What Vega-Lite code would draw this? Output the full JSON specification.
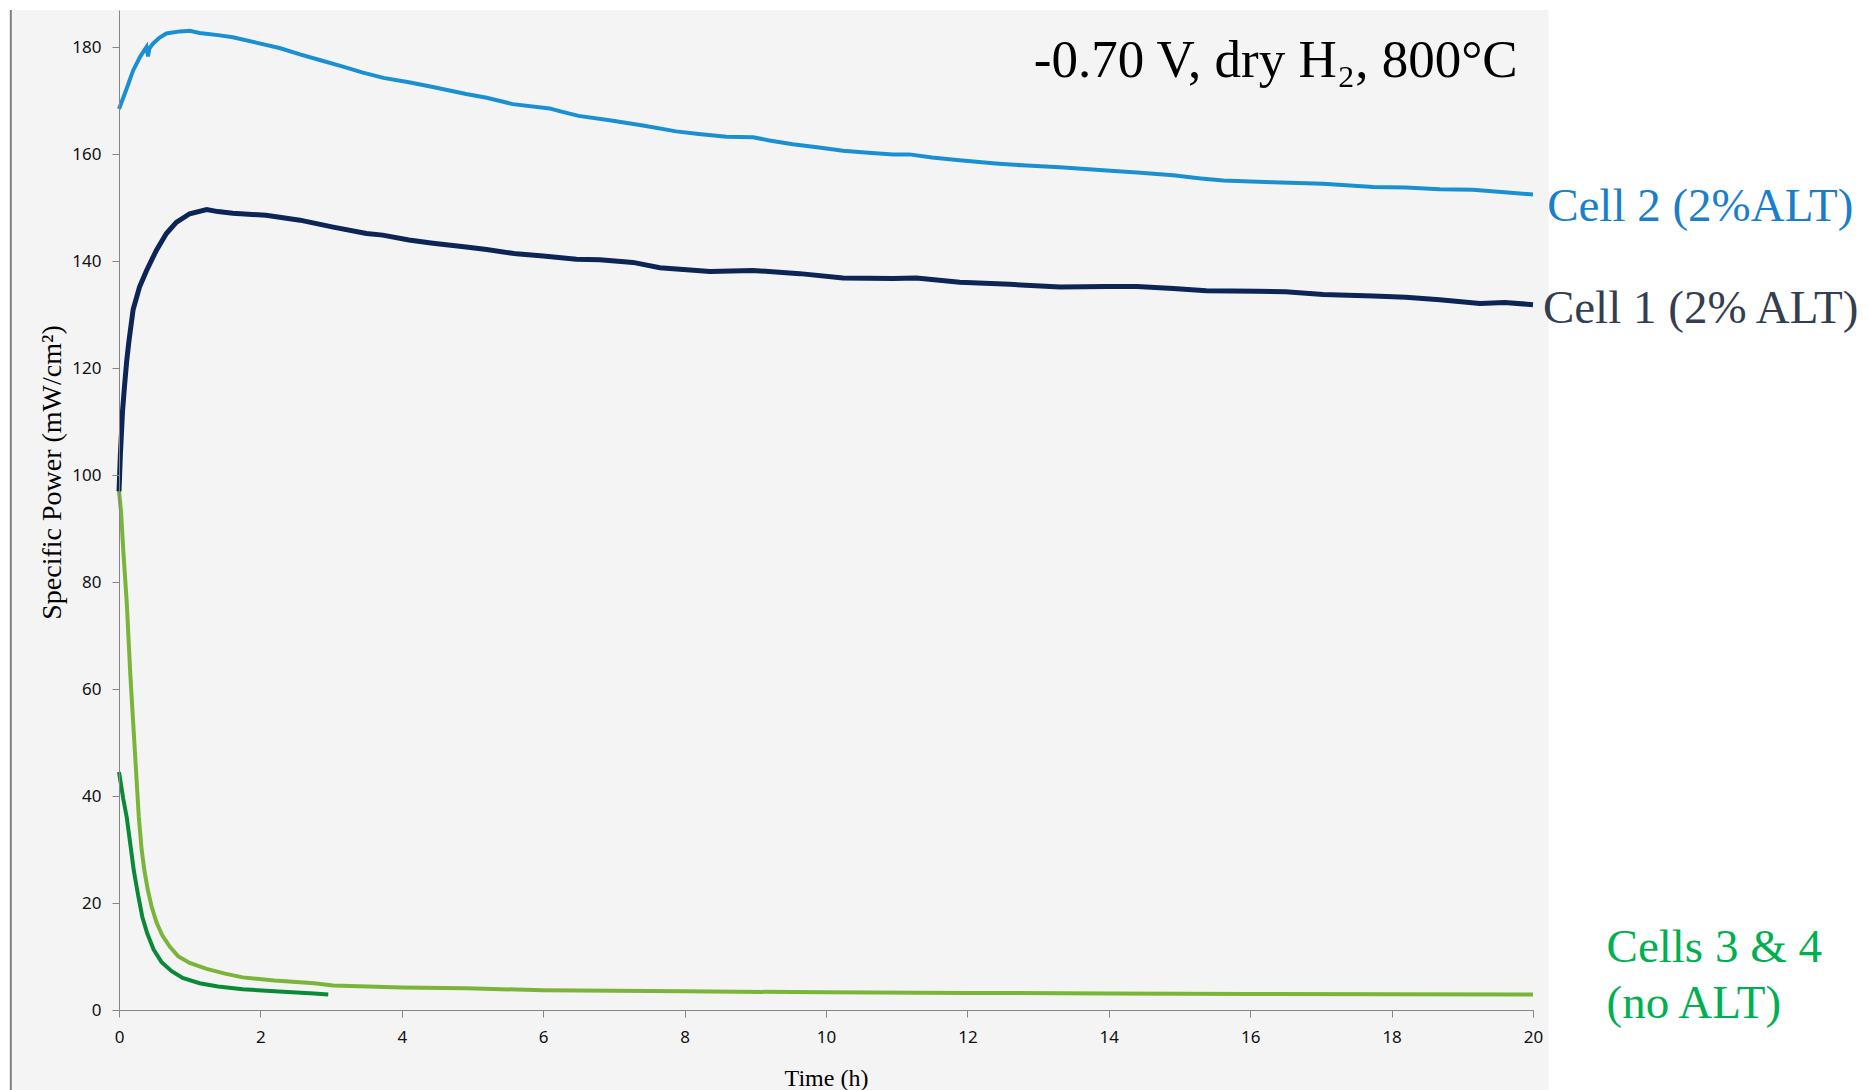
{
  "$schema": "https://vega.github.io/schema/vega-lite/v6.json",
  "width": 1414,
  "height": 1000,
  "autosize": {"type": "none"},
  "padding": {"left": 119, "top": 10, "right": 335, "bottom": 80},
  "background": "#ffffff",
  "config": {"view": {"stroke": null}},
  "datasets": {
    "one": [{}],
    "lines": [
      {"series": "Cell 4", "t": 0, "v": 44.5}, {"series": "Cell 4", "t": 0.03, "v": 42}, {"series": "Cell 4", "t": 0.06, "v": 39.5}, {"series": "Cell 4", "t": 0.11, "v": 36}, {"series": "Cell 4", "t": 0.16, "v": 31}, {"series": "Cell 4", "t": 0.21, "v": 26}, {"series": "Cell 4", "t": 0.27, "v": 21.5}, {"series": "Cell 4", "t": 0.33, "v": 17.4}, {"series": "Cell 4", "t": 0.4, "v": 14.3}, {"series": "Cell 4", "t": 0.49, "v": 11.3}, {"series": "Cell 4", "t": 0.6, "v": 9.0}, {"series": "Cell 4", "t": 0.74, "v": 7.3}, {"series": "Cell 4", "t": 0.9, "v": 6.0}, {"series": "Cell 4", "t": 1.14, "v": 5.0}, {"series": "Cell 4", "t": 1.4, "v": 4.4}, {"series": "Cell 4", "t": 1.75, "v": 3.9}, {"series": "Cell 4", "t": 2.2, "v": 3.5}, {"series": "Cell 4", "t": 2.76, "v": 3.1}, {"series": "Cell 4", "t": 2.96, "v": 2.9},
      {"series": "Cell 3", "t": 0, "v": 97}, {"series": "Cell 3", "t": 0.03, "v": 93}, {"series": "Cell 3", "t": 0.06, "v": 86}, {"series": "Cell 3", "t": 0.11, "v": 76.1}, {"series": "Cell 3", "t": 0.16, "v": 62.7}, {"series": "Cell 3", "t": 0.22, "v": 49.4}, {"series": "Cell 3", "t": 0.28, "v": 36.1}, {"series": "Cell 3", "t": 0.32, "v": 30}, {"series": "Cell 3", "t": 0.36, "v": 26}, {"series": "Cell 3", "t": 0.41, "v": 22.3}, {"series": "Cell 3", "t": 0.46, "v": 19.4}, {"series": "Cell 3", "t": 0.53, "v": 16.4}, {"series": "Cell 3", "t": 0.61, "v": 14.0}, {"series": "Cell 3", "t": 0.72, "v": 11.8}, {"series": "Cell 3", "t": 0.84, "v": 10.0}, {"series": "Cell 3", "t": 1.0, "v": 8.8}, {"series": "Cell 3", "t": 1.24, "v": 7.7}, {"series": "Cell 3", "t": 1.5, "v": 6.8}, {"series": "Cell 3", "t": 1.75, "v": 6.1}, {"series": "Cell 3", "t": 2.2, "v": 5.5}, {"series": "Cell 3", "t": 2.76, "v": 5.0}, {"series": "Cell 3", "t": 3.03, "v": 4.6}, {"series": "Cell 3", "t": 4, "v": 4.2}, {"series": "Cell 3", "t": 4.91, "v": 4.05}, {"series": "Cell 3", "t": 6, "v": 3.7}, {"series": "Cell 3", "t": 8, "v": 3.5}, {"series": "Cell 3", "t": 10, "v": 3.3}, {"series": "Cell 3", "t": 12, "v": 3.2}, {"series": "Cell 3", "t": 14, "v": 3.1}, {"series": "Cell 3", "t": 16, "v": 3.0}, {"series": "Cell 3", "t": 18, "v": 2.95}, {"series": "Cell 3", "t": 20, "v": 2.9},
      {"series": "Cell 2", "t": 0, "v": 168.5}, {"series": "Cell 2", "t": 0.1, "v": 172}, {"series": "Cell 2", "t": 0.2, "v": 175.7}, {"series": "Cell 2", "t": 0.3, "v": 178.3}, {"series": "Cell 2", "t": 0.39, "v": 180.1}, {"series": "Cell 2", "t": 0.41, "v": 178.3}, {"series": "Cell 2", "t": 0.43, "v": 179.8}, {"series": "Cell 2", "t": 0.48, "v": 180.7}, {"series": "Cell 2", "t": 0.57, "v": 181.8}, {"series": "Cell 2", "t": 0.67, "v": 182.6}, {"series": "Cell 2", "t": 0.86, "v": 183.0}, {"series": "Cell 2", "t": 1.0, "v": 183.1}, {"series": "Cell 2", "t": 1.14, "v": 182.7}, {"series": "Cell 2", "t": 1.4, "v": 182.3}, {"series": "Cell 2", "t": 1.61, "v": 181.9}, {"series": "Cell 2", "t": 1.94, "v": 180.9}, {"series": "Cell 2", "t": 2.27, "v": 179.9}, {"series": "Cell 2", "t": 2.56, "v": 178.7}, {"series": "Cell 2", "t": 2.85, "v": 177.6}, {"series": "Cell 2", "t": 3.12, "v": 176.6}, {"series": "Cell 2", "t": 3.45, "v": 175.3}, {"series": "Cell 2", "t": 3.74, "v": 174.3}, {"series": "Cell 2", "t": 4.1, "v": 173.5}, {"series": "Cell 2", "t": 4.44, "v": 172.6}, {"series": "Cell 2", "t": 4.91, "v": 171.3}, {"series": "Cell 2", "t": 5.2, "v": 170.6}, {"series": "Cell 2", "t": 5.57, "v": 169.4}, {"series": "Cell 2", "t": 6.09, "v": 168.6}, {"series": "Cell 2", "t": 6.23, "v": 168.1}, {"series": "Cell 2", "t": 6.5, "v": 167.2}, {"series": "Cell 2", "t": 6.94, "v": 166.4}, {"series": "Cell 2", "t": 7.41, "v": 165.4}, {"series": "Cell 2", "t": 7.88, "v": 164.3}, {"series": "Cell 2", "t": 8.2, "v": 163.8}, {"series": "Cell 2", "t": 8.59, "v": 163.3}, {"series": "Cell 2", "t": 8.97, "v": 163.2}, {"series": "Cell 2", "t": 9.2, "v": 162.6}, {"series": "Cell 2", "t": 9.53, "v": 161.9}, {"series": "Cell 2", "t": 9.9, "v": 161.3}, {"series": "Cell 2", "t": 10.24, "v": 160.7}, {"series": "Cell 2", "t": 10.6, "v": 160.3}, {"series": "Cell 2", "t": 10.95, "v": 160.0}, {"series": "Cell 2", "t": 11.18, "v": 160.0}, {"series": "Cell 2", "t": 11.5, "v": 159.4}, {"series": "Cell 2", "t": 11.89, "v": 158.9}, {"series": "Cell 2", "t": 12.4, "v": 158.3}, {"series": "Cell 2", "t": 12.84, "v": 157.9}, {"series": "Cell 2", "t": 13.31, "v": 157.6}, {"series": "Cell 2", "t": 13.97, "v": 157.0}, {"series": "Cell 2", "t": 14.4, "v": 156.6}, {"series": "Cell 2", "t": 14.91, "v": 156.1}, {"series": "Cell 2", "t": 15.3, "v": 155.5}, {"series": "Cell 2", "t": 15.62, "v": 155.1}, {"series": "Cell 2", "t": 16.32, "v": 154.8}, {"series": "Cell 2", "t": 17.03, "v": 154.5}, {"series": "Cell 2", "t": 17.74, "v": 153.9}, {"series": "Cell 2", "t": 18.2, "v": 153.8}, {"series": "Cell 2", "t": 18.68, "v": 153.5}, {"series": "Cell 2", "t": 19.15, "v": 153.4}, {"series": "Cell 2", "t": 19.6, "v": 152.9}, {"series": "Cell 2", "t": 20.0, "v": 152.5},
      {"series": "Cell 1", "t": 0, "v": 97}, {"series": "Cell 1", "t": 0.02, "v": 104}, {"series": "Cell 1", "t": 0.05, "v": 112}, {"series": "Cell 1", "t": 0.08, "v": 117}, {"series": "Cell 1", "t": 0.11, "v": 121.5}, {"series": "Cell 1", "t": 0.14, "v": 125}, {"series": "Cell 1", "t": 0.2, "v": 131}, {"series": "Cell 1", "t": 0.29, "v": 135.2}, {"series": "Cell 1", "t": 0.39, "v": 138.3}, {"series": "Cell 1", "t": 0.53, "v": 142.1}, {"series": "Cell 1", "t": 0.67, "v": 145.2}, {"series": "Cell 1", "t": 0.81, "v": 147.3}, {"series": "Cell 1", "t": 1.0, "v": 148.9}, {"series": "Cell 1", "t": 1.24, "v": 149.7}, {"series": "Cell 1", "t": 1.4, "v": 149.3}, {"series": "Cell 1", "t": 1.61, "v": 149.0}, {"series": "Cell 1", "t": 2.08, "v": 148.6}, {"series": "Cell 1", "t": 2.56, "v": 147.7}, {"series": "Cell 1", "t": 3.03, "v": 146.4}, {"series": "Cell 1", "t": 3.5, "v": 145.2}, {"series": "Cell 1", "t": 3.73, "v": 144.9}, {"series": "Cell 1", "t": 4.1, "v": 144.0}, {"series": "Cell 1", "t": 4.44, "v": 143.4}, {"series": "Cell 1", "t": 4.91, "v": 142.7}, {"series": "Cell 1", "t": 5.2, "v": 142.2}, {"series": "Cell 1", "t": 5.62, "v": 141.4}, {"series": "Cell 1", "t": 6.0, "v": 141.0}, {"series": "Cell 1", "t": 6.47, "v": 140.4}, {"series": "Cell 1", "t": 6.8, "v": 140.3}, {"series": "Cell 1", "t": 7.27, "v": 139.8}, {"series": "Cell 1", "t": 7.65, "v": 138.8}, {"series": "Cell 1", "t": 8.36, "v": 138.1}, {"series": "Cell 1", "t": 8.97, "v": 138.3}, {"series": "Cell 1", "t": 9.63, "v": 137.7}, {"series": "Cell 1", "t": 10.24, "v": 136.9}, {"series": "Cell 1", "t": 10.95, "v": 136.8}, {"series": "Cell 1", "t": 11.28, "v": 136.9}, {"series": "Cell 1", "t": 11.89, "v": 136.1}, {"series": "Cell 1", "t": 12.6, "v": 135.7}, {"series": "Cell 1", "t": 13.31, "v": 135.2}, {"series": "Cell 1", "t": 13.97, "v": 135.3}, {"series": "Cell 1", "t": 14.4, "v": 135.3}, {"series": "Cell 1", "t": 14.91, "v": 134.9}, {"series": "Cell 1", "t": 15.38, "v": 134.5}, {"series": "Cell 1", "t": 16.09, "v": 134.4}, {"series": "Cell 1", "t": 16.5, "v": 134.3}, {"series": "Cell 1", "t": 17.03, "v": 133.8}, {"series": "Cell 1", "t": 17.74, "v": 133.5}, {"series": "Cell 1", "t": 18.2, "v": 133.3}, {"series": "Cell 1", "t": 18.68, "v": 132.8}, {"series": "Cell 1", "t": 19.25, "v": 132.1}, {"series": "Cell 1", "t": 19.6, "v": 132.3}, {"series": "Cell 1", "t": 20.0, "v": 131.9}
    ]
  },
  "layer": [
    {
      "data": {"name": "one"},
      "mark": {"type": "rect", "fill": "#f4f4f4"},
      "encoding": {
        "x": {
          "datum": -1.53, "type": "quantitative",
          "scale": {"domain": [0, 20], "nice": false, "zero": false},
          "axis": {
            "zindex": 1, "labelFlush": false,
            "values": [0, 2, 4, 6, 8, 10, 12, 14, 16, 18, 20], "format": "d",
            "title": "Time (h)", "grid": false,
            "domainColor": "#868686", "tickColor": "#868686", "tickSize": 7,
            "labelFont": "Noto Sans", "labelFontSize": 17, "labelColor": "#111111", "labelPadding": 12,
            "titleFont": "Liberation Serif", "titleFontSize": 24, "titleFontWeight": "normal", "titleColor": "#000000",
            "titleBaseline": "alphabetic", "titleY": 75
          }
        },
        "x2": {"datum": 20.22},
        "y": {
          "datum": 187, "type": "quantitative",
          "scale": {"domain": [0, 187], "nice": false, "zero": false},
          "axis": {
            "zindex": 1, "labelFlush": false,
            "values": [0, 20, 40, 60, 80, 100, 120, 140, 160, 180], "format": "d",
            "title": "Specific Power (mW/cm²)", "grid": false,
            "domainColor": "#868686", "tickColor": "#868686", "tickSize": 7,
            "labelFont": "Noto Sans", "labelFontSize": 17, "labelColor": "#111111", "labelPadding": 11,
            "titleFont": "Liberation Serif", "titleFontSize": 28, "titleFontWeight": "normal", "titleColor": "#000000",
            "titleAngle": -90, "titleBaseline": "middle", "titleAlign": "center", "titleX": -67, "titleY": 462
          }
        },
        "y2": {"datum": -15}
      }
    },
    {
      "data": {"name": "one"},
      "mark": {"type": "rule", "color": "#808080", "strokeWidth": 2},
      "encoding": {
        "x": {"datum": -1.53, "type": "quantitative"},
        "y": {"datum": 187, "type": "quantitative"},
        "y2": {"datum": -15}
      }
    },
    {
      "data": {"name": "lines"},
      "transform": [{"filter": "datum.series !== 'Cell 1'"}],
      "mark": {"type": "line", "strokeWidth": 4},
      "encoding": {
        "x": {"field": "t", "type": "quantitative"},
        "y": {"field": "v", "type": "quantitative"},
        "color": {
          "field": "series", "type": "nominal", "legend": null,
          "scale": {"domain": ["Cell 1", "Cell 2", "Cell 3", "Cell 4"], "range": ["#0c2556", "#1a90d2", "#7ab53a", "#0a8a36"]}
        }
      }
    },
    {
      "data": {"name": "lines"},
      "transform": [{"filter": "datum.series === 'Cell 1'"}],
      "mark": {"type": "line", "strokeWidth": 5},
      "encoding": {
        "x": {"field": "t", "type": "quantitative"},
        "y": {"field": "v", "type": "quantitative"},
        "color": {"field": "series", "type": "nominal", "legend": null}
      }
    },
    {
      "data": {"name": "one"},
      "mark": {"type": "text", "text": "-0.70 V, dry H₂, 800°C", "font": "Liberation Serif", "fontSize": 53, "align": "left", "baseline": "alphabetic", "color": "#000000"},
      "encoding": {"x": {"datum": 12.94, "type": "quantitative"}, "y": {"datum": 174.4, "type": "quantitative"}}
    },
    {
      "data": {"name": "one"},
      "mark": {"type": "text", "text": "Cell 2 (2%ALT)", "font": "Liberation Serif", "fontSize": 47, "align": "left", "baseline": "alphabetic", "color": "#1a7fc8"},
      "encoding": {"x": {"datum": 20.2, "type": "quantitative"}, "y": {"datum": 147.5, "type": "quantitative"}}
    },
    {
      "data": {"name": "one"},
      "mark": {"type": "text", "text": "Cell 1 (2% ALT)", "font": "Liberation Serif", "fontSize": 47, "align": "left", "baseline": "alphabetic", "color": "#333f50"},
      "encoding": {"x": {"datum": 20.14, "type": "quantitative"}, "y": {"datum": 128.4, "type": "quantitative"}}
    },
    {
      "data": {"name": "one"},
      "mark": {"type": "text", "text": "Cells 3 & 4", "font": "Liberation Serif", "fontSize": 47, "align": "left", "baseline": "alphabetic", "color": "#00b050"},
      "encoding": {"x": {"datum": 21.04, "type": "quantitative"}, "y": {"datum": 9.0, "type": "quantitative"}}
    },
    {
      "data": {"name": "one"},
      "mark": {"type": "text", "text": "(no ALT)", "font": "Liberation Serif", "fontSize": 47, "align": "left", "baseline": "alphabetic", "color": "#00b050"},
      "encoding": {"x": {"datum": 21.04, "type": "quantitative"}, "y": {"datum": -1.5, "type": "quantitative"}}
    }
  ]
}
